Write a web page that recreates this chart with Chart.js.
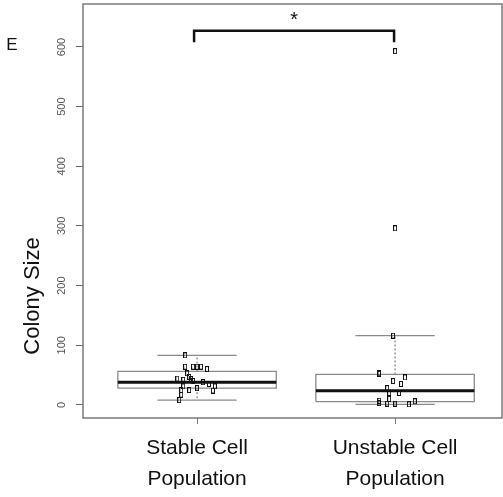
<!DOCTYPE html>
<html>
<head>
<meta charset="utf-8">
<script src="https://cdn.jsdelivr.net/npm/chart.js@4.4.1/dist/chart.umd.min.js"></script>
<style>
  html, body { margin: 0; padding: 0; background: #fff; }
  #wrap { width: 503px; height: 497px; }
</style>
</head>
<body>
<div id="wrap"><canvas id="boxChart"></canvas></div>
<script>
    // categories and tick labels
    const categories = [["Stable Cell", "Population"], ["Unstable Cell", "Population"]];
    const yTicks = [0, 100, 200, 300, 400, 500, 600];

    // box statistics
    const q1 = [28, 5.5];
    const median = [38, 23.5];
    const q3 = [56, 51];
    const whiskerLow = [8, 1];
    const whiskerHigh = [83, 116];

    // jittered colony sizes
    const stableX = [0.94, 0.94, 0.98, 1.00, 1.02, 1.05, 0.95, 0.96, 0.90, 0.93, 0.97, 0.98, 1.03, 1.06, 1.09, 1.08, 0.93, 0.92, 0.96, 1.00, 0.92, 0.91];
    const stableY = [83, 64, 64, 64, 64, 60, 53, 47, 44, 42, 43, 40, 38, 35, 31, 24, 31, 25, 25, 28, 17, 8];
    const unstableX = [1.99, 1.92, 1.92, 1.99, 2.05, 2.03, 1.96, 1.97, 2.02, 1.97, 1.92, 1.92, 1.96, 2.00, 2.07, 2.10, 2.00, 2.00];
    const unstableY = [116, 53, 52, 40, 46, 35, 28, 20, 20, 10, 7, 3, 2, 2, 1, 6, 593, 296];

    // significance bracket
    const bracketX = [0.985, 1.995];
    const bracketY = [608, 627];
    const bracketLabel = '*';

    const boxHalf = 0.4;
    const capHalf = 0.2;

    // join segments into one line dataset, broken by gaps
    function segments(list) {
      const out = [];
      list.forEach(s => {
        out.push(...s);
        out.push({x: s[0].x, y: null});
      });
      return out;
    }

    const boxLines = segments(categories.map((c, i) => {
      const x = i + 1;
      return [
        {x: x - boxHalf, y: q1[i]}, {x: x + boxHalf, y: q1[i]},
        {x: x + boxHalf, y: q3[i]}, {x: x - boxHalf, y: q3[i]},
        {x: x - boxHalf, y: q1[i]}
      ];
    }));
    const medianLines = segments(categories.map((c, i) => [
      {x: i + 1 - boxHalf, y: median[i]}, {x: i + 1 + boxHalf, y: median[i]}
    ]));
    const capLines = segments(categories.flatMap((c, i) => [
      [{x: i + 1 - capHalf, y: whiskerLow[i]}, {x: i + 1 + capHalf, y: whiskerLow[i]}],
      [{x: i + 1 - capHalf, y: whiskerHigh[i]}, {x: i + 1 + capHalf, y: whiskerHigh[i]}]
    ]));
    const stemLines = segments(categories.flatMap((c, i) => [
      [{x: i + 1, y: q3[i]}, {x: i + 1, y: whiskerHigh[i]}],
      [{x: i + 1, y: q1[i]}, {x: i + 1, y: whiskerLow[i]}]
    ]));
    const bracketLine = [
      {x: bracketX[0], y: bracketY[0]}, {x: bracketX[0], y: bracketY[1]},
      {x: bracketX[1], y: bracketY[1]}, {x: bracketX[1], y: bracketY[0]}
    ];

    // small open rectangle used as the point marker
    const mark = document.createElement('canvas');
    mark.width = 4;
    mark.height = 6;
    const mctx = mark.getContext('2d');
    mctx.strokeStyle = '#111';
    mctx.lineWidth = 1;
    mctx.strokeRect(0.5, 0.5, 3, 5);

    const points = stableX.map((x, i) => ({x: x, y: stableY[i]}))
      .concat(unstableX.map((x, i) => ({x: x, y: unstableY[i]})));

    const decorations = {
      id: 'decorations',
      beforeDatasetsDraw(chart) {
        const {ctx, chartArea} = chart;
        ctx.save();
        ctx.strokeStyle = '#7a7a7a';
        ctx.lineWidth = 1.5;
        ctx.strokeRect(chartArea.left, chartArea.top, chartArea.right - chartArea.left, chartArea.bottom - chartArea.top);
        ctx.restore();
      },
      afterDraw(chart) {
        const {ctx, scales} = chart;
        ctx.save();
        ctx.fillStyle = '#111';
        ctx.textAlign = 'center';
        ctx.textBaseline = 'middle';

        ctx.font = '17px "Liberation Sans", Arial, sans-serif';
        ctx.fillText('E', 12, 45);

        ctx.font = '20px "Liberation Sans", Arial, sans-serif';
        ctx.fillText(bracketLabel, scales.x.getPixelForValue((bracketX[0] + bracketX[1]) / 2), scales.y.getPixelForValue(bracketY[1]) - 10);

        ctx.save();
        ctx.translate(33, 296);
        ctx.rotate(-Math.PI / 2);
        ctx.font = '22px "Liberation Sans", Arial, sans-serif';
        ctx.fillText('Colony Size', 0, 0);
        ctx.restore();

        ctx.restore();
      }
    };

    let boxChart = new Chart('boxChart', {
      type: 'scatter',
      data: {
        datasets: [
          {
            data: points,
            pointStyle: mark,
            pointRadius: 3,
          },
          {
            type: 'line',
            data: bracketLine,
            borderColor: '#111',
            borderWidth: 2.5,
            pointRadius: 0,
          },
          {
            type: 'line',
            data: medianLines,
            borderColor: '#111',
            borderWidth: 3,
            pointRadius: 0,
          },
          {
            type: 'line',
            data: boxLines,
            borderColor: '#8a8a8a',
            borderWidth: 1.3,
            pointRadius: 0,
          },
          {
            type: 'line',
            data: capLines,
            borderColor: '#8a8a8a',
            borderWidth: 1.3,
            pointRadius: 0,
          },
          {
            type: 'line',
            data: stemLines,
            borderColor: '#666',
            borderWidth: 1,
            borderDash: [2, 2],
            pointRadius: 0,
          },
        ],
      },
      options: {
        animation: false,
        responsive: true,
        maintainAspectRatio: false,
        spanGaps: false,
        layout: {
          autoPadding: false,
          padding: {left: 0, top: 4, right: 1, bottom: 0},
        },
        plugins: {
          legend: { display: false },
          tooltip: { enabled: false },
        },
        scales: {
          x: {
            type: 'linear',
            min: 0.424,
            max: 2.54,
            afterBuildTicks: (scale) => {
              scale.ticks = categories.map((c, i) => ({value: i + 1}));
            },
            afterFit: (scale) => {
              scale.height = 79;
              scale.paddingLeft = 0;
              scale.paddingRight = 0;
            },
            grid: {
              drawOnChartArea: false,
              drawTicks: true,
              tickLength: 6,
              color: '#777',
            },
            border: { display: false },
            ticks: {
              padding: 8,
              color: '#111',
              font: {
                family: "'Liberation Sans', Arial, sans-serif",
                size: 21,
                lineHeight: 1.5,
              },
              callback: (value) => categories[value - 1],
            },
          },
          y: {
            min: -22,
            max: 672,
            afterBuildTicks: (scale) => {
              scale.ticks = yTicks.map(v => ({value: v}));
            },
            afterFit: (scale) => {
              scale.width = 83;
              scale.paddingTop = 0;
              scale.paddingBottom = 0;
            },
            grid: {
              drawOnChartArea: false,
              drawTicks: true,
              tickLength: 7,
              color: '#666',
            },
            border: { display: false },
            ticks: {
              minRotation: 90,
              maxRotation: 90,
              crossAlign: 'center',
              padding: 5,
              color: '#555',
              font: {
                family: "'Liberation Sans', Arial, sans-serif",
                size: 11,
              },
            },
          },
        },
      },
      plugins: [decorations],
    });
</script>
</body>
</html>
